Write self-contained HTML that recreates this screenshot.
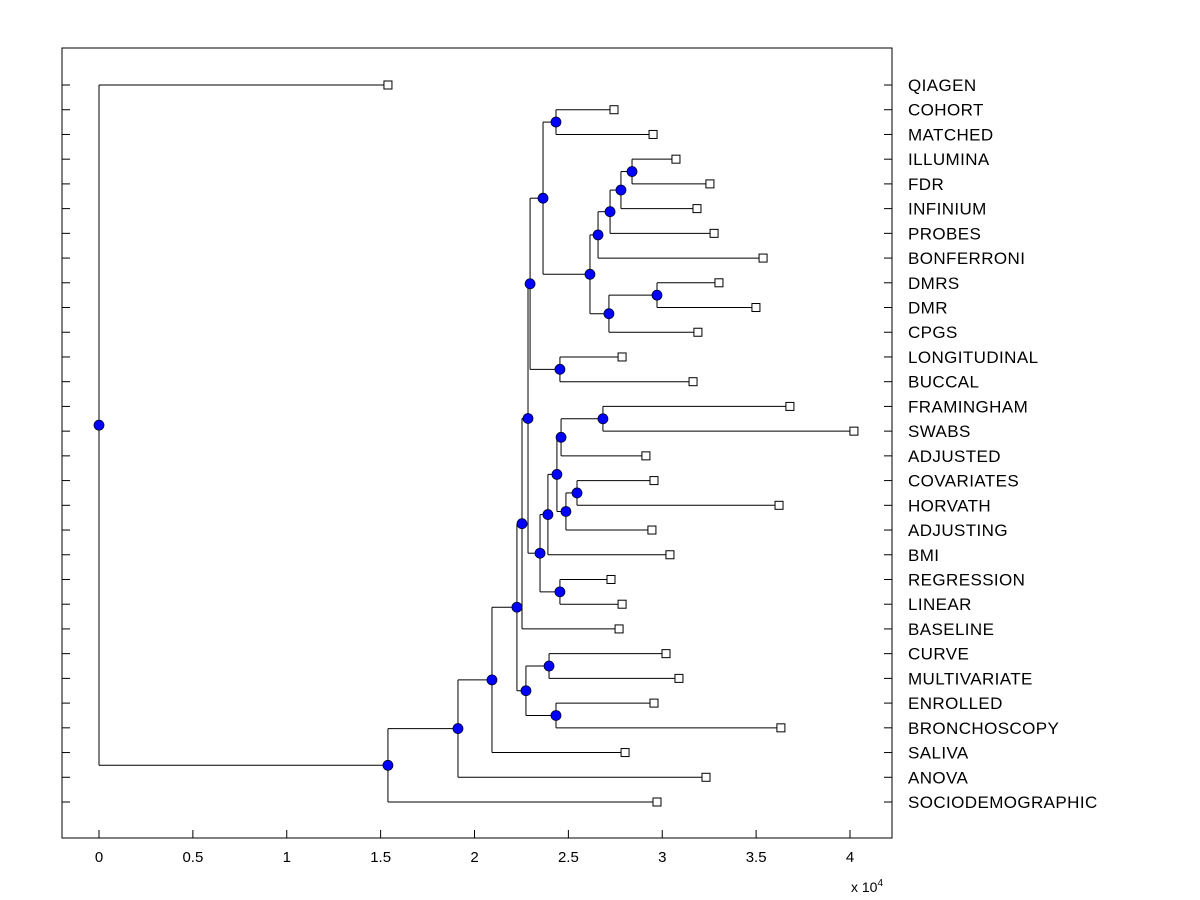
<!DOCTYPE html>
<html><head><meta charset="utf-8"><style>
body{margin:0;background:#fff;}
svg{display:block;font-family:"Liberation Sans",Arial,sans-serif;}
</style></head><body>
<svg id="chart" width="1200" height="900">
<rect x="62" y="48" width="830" height="790" fill="#fff" stroke="#000" stroke-width="1"/>
<g id="links"></g><g id="marks"></g><g id="axes"></g>
<text x="851" y="892" font-size="14">x 10<tspan dy="-6" font-size="10">4</tspan></text>
</svg>
<script>
const leafNames = ["QIAGEN","COHORT","MATCHED","ILLUMINA","FDR","INFINIUM","PROBES","BONFERRONI","DMRS","DMR","CPGS","LONGITUDINAL","BUCCAL","FRAMINGHAM","SWABS","ADJUSTED","COVARIATES","HORVATH","ADJUSTING","BMI","REGRESSION","LINEAR","BASELINE","CURVE","MULTIVARIATE","ENROLLED","BRONCHOSCOPY","SALIVA","ANOVA","SOCIODEMOGRAPHIC"];
const leafHeights = [1.539,2.743,2.951,3.073,3.254,3.185,3.276,3.537,3.302,3.499,3.190,2.786,3.164,3.680,4.021,2.913,2.956,3.622,2.945,3.041,2.727,2.786,2.770,3.020,3.089,2.956,3.632,2.802,3.233,2.972];
const nodeNames = ["T","S","R","P","U","Q","O","N","L","M","J","FS","Z","BB","AA","X","V","W","K","I","E","G","H","F","D","C","B","A","ROOT"];
const nodeLeft  = ["ILLUMINA","T","S","R","DMRS","U","P","COHORT","N","LONGITUDINAL","L","FRAMINGHAM","FS","COVARIATES","BB","Z","X","REGRESSION","V","J","I","CURVE","ENROLLED","G","E","D","C","B","QIAGEN"];
const nodeRight = ["FDR","INFINIUM","PROBES","BONFERRONI","DMR","CPGS","Q","MATCHED","O","BUCCAL","M","SWABS","ADJUSTED","HORVATH","ADJUSTING","AA","BMI","LINEAR","W","K","BASELINE","MULTIVARIATE","BRONCHOSCOPY","H","F","SALIVA","ANOVA","SOCIODEMOGRAPHIC","A"];
const nodeHeights = [2.839,2.780,2.722,2.658,2.972,2.716,2.615,2.434,2.365,2.455,2.296,2.684,2.461,2.546,2.487,2.439,2.391,2.455,2.349,2.285,2.253,2.397,2.434,2.274,2.226,2.093,1.912,1.539,0];
const xTicks = [0,0.5,1,1.5,2,2.5,3,3.5,4];
const xTickLabels = ["0","0.5","1","1.5","2","2.5","3","3.5","4"];

const NS="http://www.w3.org/2000/svg";
const xS = v => 99 + v*187.75;
const yS = i => 85 + i*(802-85)/29;
const H={}, Y={};
leafNames.forEach((n,i)=>{H[n]=leafHeights[i];Y[n]=yS(i);});
function mk(tag,attrs,parent){const e=document.createElementNS(NS,tag);for(const k in attrs)e.setAttribute(k,attrs[k]);parent.appendChild(e);return e;}
const links=document.getElementById('links'),marks=document.getElementById('marks'),axes=document.getElementById('axes');
nodeNames.forEach((n,i)=>{
  const a=nodeLeft[i],b=nodeRight[i];
  H[n]=nodeHeights[i];Y[n]=(Y[a]+Y[b])/2;
  const x=xS(H[n]);
  const v=mk('line',{x1:x,x2:x,y1:Y[a],y2:Y[b],stroke:'#000','stroke-width':1},links);
  
  
  [a,b].forEach(c=>{
    const h=mk('line',{x1:x,x2:xS(H[c]),y1:Y[c],y2:Y[c],stroke:'#000','stroke-width':1},links);
    
    
  });
});
nodeNames.forEach(n=>{
  const c=mk('circle',{cx:xS(H[n]),cy:Y[n],r:5,fill:'#0000ff',stroke:'#000033','stroke-width':0.8},marks);
  
  
});
leafNames.forEach((n,i)=>{
  const x=xS(leafHeights[i]),y=yS(i);
  const r=mk('rect',{x:x-4,y:y-4,width:8,height:8,fill:'#fff',stroke:'#000','stroke-width':1},marks);
  
  
  const t=mk('text',{x:908,y:y+6,'font-size':17,'letter-spacing':0.4},axes);
  t.textContent=n;
  
  
  const tl=mk('line',{x1:62,x2:70,y1:y,y2:y,stroke:'#000'},axes);
  
  
  const tr=mk('line',{x1:884,x2:892,y1:y,y2:y,stroke:'#000'},axes);
  
  
});
xTicks.forEach((v,i)=>{
  const x=xS(v);
  const l=mk('line',{x1:x,x2:x,y1:838,y2:830,stroke:'#000'},axes);
  
  
  const t=mk('text',{x:x,y:862,'font-size':15,'text-anchor':'middle'},axes);
  t.textContent=xTickLabels[i];
  
  
});
</script>
</body></html>
